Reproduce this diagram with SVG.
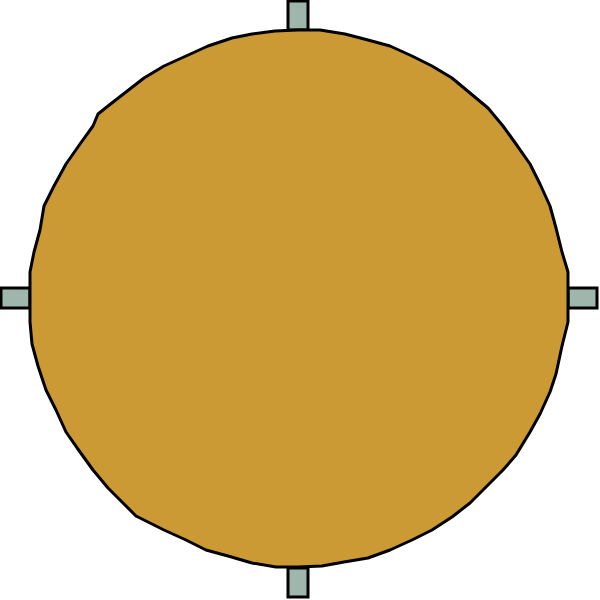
<svg xmlns="http://www.w3.org/2000/svg" width="600" height="600" viewBox="0 0 600 600">
<style>
.tab{fill:#9fb6ad;stroke:#000;stroke-width:3}
.body{fill:#cc9a35;stroke:#000;stroke-width:3;stroke-linejoin:round}
</style>
<g id="tabs">
<rect id="tab-top" class="tab" x="288" y="1" width="20" height="29"/>
<rect id="tab-left" class="tab" x="1" y="288" width="29" height="20"/>
<rect id="tab-right" class="tab" x="568" y="288" width="29" height="20"/>
<rect id="tab-bottom" class="tab" x="288" y="568" width="20" height="29"/>
</g>
<g id="disc">
<polygon class="body" points="568,272 568,322 562,346 556,374 550,392 540,414 530,432 516,455 503,470 486,487 470,503 452,517 432,530 412,540 390,550 368,558 344,562 322,566 298,567 276,567 252,563 228,556 206,550 186,540 164,530 136,516 124,504 108,488 93,470 80,452 66,432 56,410 46,390 38,366 32,344 30,322 30,272 34,252 40,230 44,206 54,186 66,164 80,144 93,126 98,114 108,106 126,92 144,78 164,66 186,56 208,46 232,38 252,34 275,31 298,30 320,30 345,34 368,40 390,46 412,56 432,66 452,78 470,93 488,108 503,126 516,144 530,164 540,184 550,206 556,228 562,252"/>
</g>
</svg>
